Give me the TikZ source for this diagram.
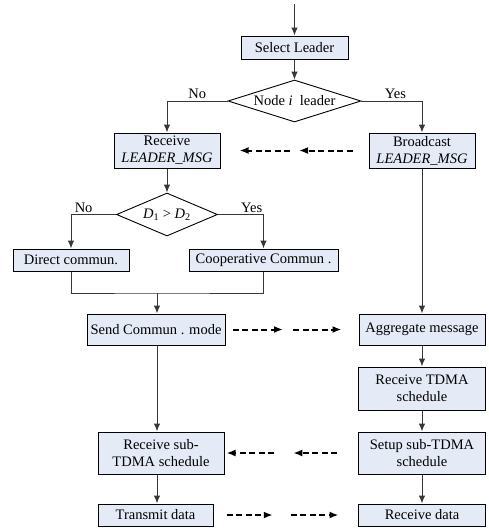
\documentclass[tikz,border=0pt]{standalone}
\usepackage{fontspec}
\setmainfont{Liberation Serif}
\usetikzlibrary{calc}
\usetikzlibrary{shapes.geometric}
\usetikzlibrary{arrows.meta}
\definecolor{boxfill}{RGB}{228,235,246}
\definecolor{linegray}{RGB}{55,55,55}
\tikzset{
	stepbox/.style={draw, fill=boxfill, line width=1pt, inner sep=0pt, align=center, font=\fontsize{14.5}{17}\selectfont},
	decision/.style={draw, diamond, line width=0.9pt, inner sep=0pt, font=\fontsize{14.5}{17}\selectfont},
	flow/.style={-{Latex[length=8pt,width=6.5pt]}, draw=linegray, line width=1pt},
	msg/.style={-{Latex[length=9pt,width=7pt]}, line width=2pt, dash pattern=on 6pt off 3.5pt},
	lbl/.style={font=\fontsize{14.5}{17}\selectfont, inner sep=1.5pt}
}

\begin{document}
\begin{tikzpicture}[x=1pt, y=-1pt]
			\useasboundingbox (0,0) rectangle (488,528);
			\coordinate (start) at (294.5,4);
			\node[stepbox, minimum width=107pt, minimum height=23pt] (sel) at (294.5,47.5) {Select Leader};
			\node[decision, aspect=3.17, minimum width=133pt, minimum height=42pt] (lead) at (294.5,101) {Node \textit{i}\ \ leader};
			\node[stepbox, minimum width=106pt, minimum height=35pt] (rec) at (167,150.5) {Receive\\\textit{LEADER\_MSG}};
			\node[stepbox, minimum width=106pt, minimum height=35pt] (bro) at (422,150.5) {Broadcast\\\textit{LEADER\_MSG}};
			\node[decision, aspect=2.35, minimum width=101pt, minimum height=43pt] (dist) at (167,214.5) {\textit{D}\textsubscript{1} > \textit{D}\textsubscript{2}};
			\node[stepbox, minimum width=116pt, minimum height=22pt] (dir) at (71,260) {Direct commun.};
			\node[stepbox, minimum width=149pt, minimum height=22pt] (coop) at (263.5,260) {Cooperative Commun .};
			\coordinate (join) at (157,293);
			\node[stepbox, minimum width=138pt, minimum height=31pt] (send) at (156,329.5) {Send Commun . mode};
			\node[stepbox, minimum width=126pt, minimum height=31pt] (agg) at (422,329.5) {Aggregate message};
			\node[stepbox, minimum width=127pt, minimum height=43pt] (rtdma) at (422,388.5) {Receive TDMA\\schedule};
			\node[stepbox, minimum width=127pt, minimum height=42pt] (setup) at (422,453) {Setup sub-TDMA\\schedule};
			\node[stepbox, minimum width=126pt, minimum height=42pt] (rsub) at (161,453) {Receive sub-\\TDMA schedule};
			\node[stepbox, minimum width=115pt, minimum height=22pt] (trans) at (155.5,515) {Transmit data};
			\node[stepbox, minimum width=127pt, minimum height=22pt] (rdata) at (422,515) {Receive data};
			\draw[flow] (start) -- (sel);
			\draw[flow] (sel) -- (lead);
			\draw[flow] (lead.west) -| (rec.north) node[lbl, above, pos=0.25] {No};
			\draw[flow] (lead.east) -| (bro.north) node[lbl, above, pos=0.28] {Yes};
			\draw[flow] (rec) -- (dist);
			\draw[flow] (dist.west) -| (dir.north) node[lbl, above, pos=0.36] {No};
			\draw[flow] (dist.east) -| (coop.north) node[lbl, above, pos=0.37] {Yes};
			\draw[draw=linegray, line width=1pt] (dir.south) |- (join) -| (coop.south);
			\draw[flow] (join) -- (join |- send.north);
			\draw[flow] (bro) -- (agg);
			\draw[flow] (agg) -- (rtdma);
			\draw[flow] (rtdma) -- (setup);
			\draw[flow] (setup) -- (rdata);
			\draw[flow] (send.south -| join) -- (rsub.north -| join);
			\draw[flow] (rsub.south -| join) -- (trans.north -| join);
			\coordinate (m1) at ($(bro.west)!0.5!(rec.east)$);
			\draw[msg, shorten <=16pt, shorten >=4.5pt] (bro.west) -- (m1);
			\draw[msg, shorten <=4.5pt, shorten >=19pt] (m1) -- (rec.east);
			\coordinate (m2) at ($(send.east)!0.5!(agg.west)$);
			\draw[msg, shorten <=7pt, shorten >=9pt] (send.east) -- (m2);
			\draw[msg, shorten <=1pt, shorten >=17pt] (m2) -- (agg.west);
			\coordinate (m3) at ($(setup.west)!0.5!(rsub.east)$);
			\draw[msg, shorten <=21pt, shorten >=2pt] (setup.west) -- (m3);
			\draw[msg, shorten <=17pt, shorten >=2pt] (m3) -- (rsub.east);
			\coordinate (m4) at ($(trans.east)!0.5!(rdata.west)$);
			\draw[msg, shorten <=13pt, shorten >=13pt] (trans.east) -- (m4);
			\draw[msg, shorten <=5pt, shorten >=19.5pt] (m4) -- (rdata.west);
		\end{tikzpicture}
\end{document}
